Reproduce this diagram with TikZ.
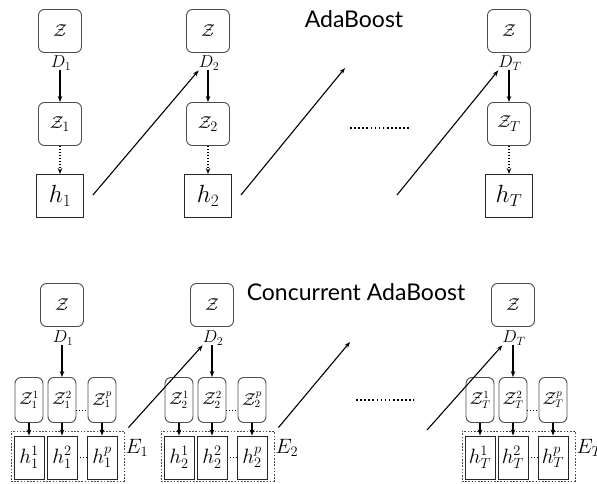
\documentclass[tikz,border=0pt]{standalone}
\usepackage{fontspec}
\usetikzlibrary{arrows.meta,calc}
\newfontfamily\titlefont{Lato}
\begin{document}
\begin{tikzpicture}[x=1pt,y=-1pt,
  zbox/.style={draw=black!70,line width=0.9pt,rounded corners=6pt,minimum width=43pt,minimum height=43pt,inner sep=0pt,font=\fontsize{19}{22}\selectfont},
  hbox/.style={draw=black!85,line width=0.9pt,minimum width=47pt,minimum height=43pt,inner sep=0pt,font=\fontsize{24}{28}\selectfont},
  dlab/.style={inner sep=0pt,font=\fontsize{17}{20}\selectfont},
  szbox/.style={draw=black!70,line width=0.9pt,rounded corners=6pt,minimum width=28pt,minimum height=45pt,inner sep=0pt,font=\fontsize{16}{19}\selectfont},
  shbox/.style={draw=black!85,line width=0.9pt,minimum width=30pt,minimum height=43pt,inner sep=0pt,font=\fontsize{20}{24}\selectfont},
  ebox/.style={draw=black!70,line width=0.9pt,dash pattern=on 1.6pt off 1.6pt,minimum width=113pt,minimum height=50pt,inner sep=0pt},
  elab/.style={inner sep=1pt,font=\fontsize{21}{24}\selectfont},
  arr/.style={-{Stealth[length=6pt,width=4.5pt]},line width=1.1pt},
  darr/.style={arr,dash pattern=on 1pt off 2pt},
  thindots/.style={line width=0.7pt,dash pattern=on 1pt off 2pt},
  dotsline/.style={line width=1.6pt,dash pattern=on 1.6pt off 2.5pt},
  title/.style={font=\titlefont\fontsize{23}{27}\selectfont,inner sep=0pt}
]
\useasboundingbox (0,0) rectangle (597,484);

% ---------- top: AdaBoost ----------
\node[title] (t1) at (354,19) {AdaBoost};
\foreach \c/\i in {60/1, 208/2, 509/T}{
  \node[zbox] (Z\i) at (\c,31) {$\mathcal{Z}$};
  \node[dlab] (D\i) at (\c+1,63) {$D_{\i}$};
  \node[zbox] (Zs\i) at (\c,124) {$\mathcal{Z}_{\i}$};
  \node[hbox] (h\i) at (\c,196) {$h_{\i}$};
  \draw[arr] (D\i.south -| Zs\i.north) -- (Zs\i.north);
  \draw[darr] (Zs\i.south) -- (h\i.north);
}
\coordinate (f1) at (345,68);
\coordinate (g1) at (397,195);
\draw[arr] ([xshift=9pt,yshift=1pt]h1.east) -- (D2.south west);
\draw[arr] ([xshift=9pt,yshift=1pt]h2.east) -- (f1);
\draw[arr] (g1) -- (DT.south west);
\draw[dotsline] (350,128) -- (411,128);

% ---------- bottom: Concurrent AdaBoost ----------
\node[title] (t2) at (356,292) {Concurrent AdaBoost};
\foreach \c/\i in {62/1, 212/2, 513/T}{
  \node[zbox] (BZ\i) at (\c,305) {$\mathcal{Z}$};
  \node[dlab] (BD\i) at (\c+1,338) {$D_{\i}$};
  \node[szbox] (a\i) at (\c-33,400) {$\mathcal{Z}_{\i}^{1}$};
  \node[szbox] (b\i) at (\c,400) {$\mathcal{Z}_{\i}^{2}$};
  \node[szbox] (c\i) at (\c+40,400) {$\mathcal{Z}_{\i}^{p}$};
  \node[ebox] (E\i) at (\c+5.5,456) {};
  \node[shbox] (ha\i) at (\c-33,457.5) {$h_{\i}^{1}$};
  \node[shbox] (hb\i) at (\c,457.5) {$h_{\i}^{2}$};
  \node[shbox] (hc\i) at (\c+40,457.5) {$h_{\i}^{p}$};
  \node[elab,anchor=west] (El\i) at ([yshift=8pt]E\i.east) {$E_{\i}$};
  \draw[arr] (BD\i.south -| b\i.north) -- (b\i.north);
  \draw[arr] (a\i.south) -- (ha\i.north);
  \draw[arr] (b\i.south) -- (hb\i.north);
  \draw[arr] (c\i.south) -- (hc\i.north);
  \draw[thindots] ([yshift=-10pt]b\i.east) -- ([yshift=-10pt]c\i.west);
  \draw[thindots] (hb\i.east) -- (hc\i.west);
}
\coordinate (f2) at (350,342);
\coordinate (g2) at (427,430);
\draw[arr] ([xshift=4pt,yshift=3pt]E1.north east) -- (BD2.south west);
\draw[arr] ([xshift=4pt,yshift=3pt]E2.north east) -- (f2);
\draw[arr] (g2) -- (BDT.south west);
\draw[dotsline] (356,400) -- (414,400);
\end{tikzpicture}
\end{document}
